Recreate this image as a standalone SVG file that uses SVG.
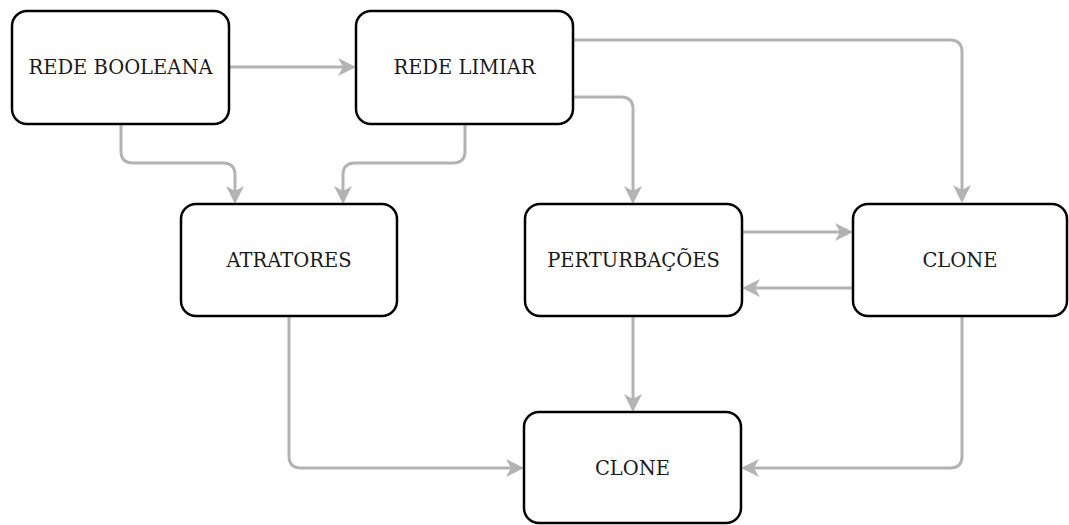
<svg xmlns="http://www.w3.org/2000/svg" width="1069" height="525" viewBox="0 0 1069 525">
  <style>
    .node rect { fill: #ffffff; stroke: #000000; stroke-width: 2.5; }
    .node text { font-family: "DejaVu Serif", serif; font-size: 19.5px; fill: #1a1a1a; text-anchor: middle; dominant-baseline: central; }
    .edge { fill: none; stroke: #b3b3b3; stroke-width: 3; stroke-linejoin: round; marker-end: url(#arrow); }
  </style>
  <defs>
    <!-- notched arrowhead; the path ends 3px short of the box, the tip lands on the edge -->
    <marker id="arrow" viewBox="0 0 18 20" refX="15" refY="10" markerWidth="18" markerHeight="20" markerUnits="userSpaceOnUse" orient="auto">
      <path d="M 0 1 L 18 10 L 0 19 L 5 10 Z" fill="#b3b3b3"/>
    </marker>
  </defs>

  <g id="connectors">
    <path class="edge" d="M 229 67 L 353 67"/>
    <path class="edge" d="M 121 124 L 121 151 Q 121 163 133 163 L 223 163 Q 235 163 235 175 L 235 201"/>
    <path class="edge" d="M 465 124 L 465 151 Q 465 163 453 163 L 355 163 Q 343 163 343 175 L 343 201"/>
    <path class="edge" d="M 573 40 L 950 40 Q 962 40 962 52 L 962 200"/>
    <path class="edge" d="M 573 97 L 621 97 Q 633 97 633 109 L 633 201"/>
    <path class="edge" d="M 742 232 L 850 232"/>
    <path class="edge" d="M 853 288 L 745 288"/>
    <path class="edge" d="M 633 316 L 633 409"/>
    <path class="edge" d="M 962 316 L 962 456 Q 962 468 950 468 L 744 468"/>
    <path class="edge" d="M 289 316 L 289 456 Q 289 468 301 468 L 521 468"/>
  </g>

  <g id="rede-booleana" class="node">
    <rect x="12" y="11" width="217" height="113" rx="15"/>
    <text x="120.5" y="67.5">REDE BOOLEANA</text>
  </g>
  <g id="rede-limiar" class="node">
    <rect x="356" y="11" width="217" height="113" rx="15"/>
    <text x="464.5" y="67.5">REDE LIMIAR</text>
  </g>
  <g id="atratores" class="node">
    <rect x="181" y="204" width="216" height="112" rx="15"/>
    <text x="289" y="260">ATRATORES</text>
  </g>
  <g id="perturbacoes" class="node">
    <rect x="525" y="204" width="217" height="112" rx="15"/>
    <text x="633.5" y="260">PERTURBAÇÕES</text>
  </g>
  <g id="clone-direita" class="node">
    <rect x="853" y="204" width="214" height="112" rx="15"/>
    <text x="960" y="260">CLONE</text>
  </g>
  <g id="clone-final" class="node">
    <rect x="524" y="412" width="217" height="111" rx="15"/>
    <text x="632.5" y="468">CLONE</text>
  </g>
</svg>
